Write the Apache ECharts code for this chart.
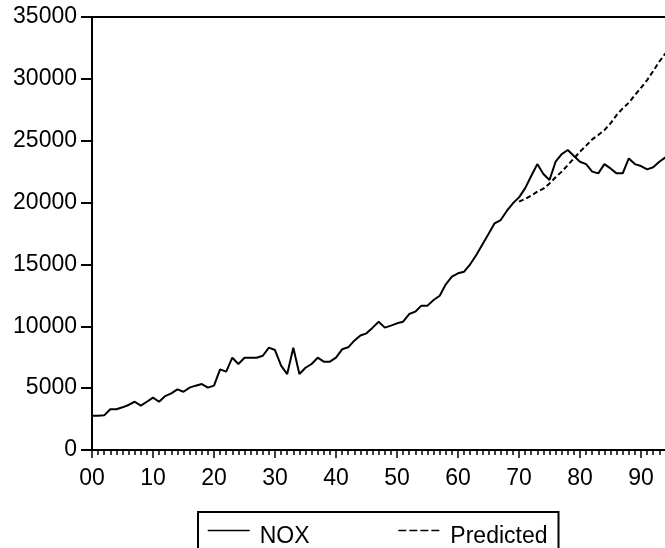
<!DOCTYPE html>
<html>
<head>
<meta charset="utf-8">
<script src="https://cdn.jsdelivr.net/npm/echarts@6/dist/echarts.min.js"></script>
<style>
html,body{margin:0;padding:0;background:#fff;}
#chart{width:665px;height:548px;}
</style>
</head>
<body>
<div id="chart"></div>
<script>
const years = [];
for (let y = 0; y <= 94; y++) years.push(y);
const nox = [2775,2775,2800,3290,3290,3450,3640,3900,3580,3900,
  4230,3900,4360,4580,4900,4710,5040,5200,5330,5040,
  5200,6520,6330,7460,6950,7460,7460,7460,7620,8270,
  8080,6820,6140,8270,6140,6650,6950,7460,7140,7140,
  7460,8140,8300,8840,9260,9430,9890,10370,9890,10050,
  10240,10370,10990,11180,11670,11670,12120,12470,13390,14010,
  14280,14410,15010,15760,16620,17460,18320,18590,19320,19940,
  20420,21150,22150,23110,22310,21820,23300,23920,24250,23760,
  23300,23110,22500,22360,23110,22760,22360,22360,23570,23110,
  22950,22680,22850,23300,23650];
const predYears = [];
for (let y = 70; y <= 94; y++) predYears.push(y);
const predicted = [20070,20290,20560,20880,21120,21550,22040,22500,23030,23570,
  24110,24600,25110,25460,25860,26400,27070,27610,28070,28690,
  29280,29900,30630,31390,32060];
const xTickLabels = ['00','10','20','30','40','50','60','70','80','90'];

const chart = echarts.init(document.getElementById('chart'), null, {renderer:'canvas'});
const font = 'Liberation Sans, Arial, sans-serif';
chart.setOption({
  animation: false,
  backgroundColor: '#fff',
  grid: {left: 92, top: 17, width: 610, bottom: 98, show: true, borderColor: '#000', borderWidth: 2,
    backgroundColor: 'transparent', outerBoundsMode: 'none', containLabel: false},
  xAxis: {
    type: 'value', min: 0, max: 100, interval: 10,
    axisLine: {show: true, lineStyle: {color: '#000', width: 2}},
    axisTick: {show: true, length: 8, lineStyle: {color: '#000', width: 1.5}},
    minorTick: {show: true, splitNumber: 10, length: 5, lineStyle: {color: '#000', width: 1.5}},
    splitLine: {show: false},
    axisLabel: {color: '#000', fontSize: 23, fontFamily: font, margin: 17,
      formatter: v => { const i = Math.round(v / 10); return i < xTickLabels.length ? xTickLabels[i] : ''; }}
  },
  yAxis: {
    type: 'value', min: 0, max: 35000, interval: 5000,
    axisLine: {show: true, lineStyle: {color: '#000', width: 2}},
    axisTick: {show: true, length: 11, lineStyle: {color: '#000', width: 2}},
    splitLine: {show: false},
    axisLabel: {color: '#000', fontSize: 23, fontFamily: font, margin: 15, formatter: v => String(v)}
  },
  legend: {
    left: 198, top: 512,
    padding: [1, 11, 6, 9],
    borderColor: '#000', borderWidth: 2,
    itemWidth: 42, itemHeight: 14, itemGap: 88,
    itemStyle: {color: 'rgba(0,0,0,0)', borderWidth: 0, opacity: 0},
    formatter: '{a|{name}}',
    textStyle: {color: '#000', fontSize: 23, fontFamily: font, padding: [0, 0, 0, 5],
      rich: {a: {color: '#000', fontSize: 23, fontFamily: font, lineHeight: 12, padding: [12, 0, 0, 0]}}},
    data: [
      {name: 'NOX', lineStyle: {type: 'solid', width: 1.5}},
      {name: 'Predicted', lineStyle: {type: [8, 3], width: 1.5}}
    ]
  },
  series: [
    {name: 'NOX', type: 'line', symbol: 'none', data: years.map((y, i) => [y, nox[i]]),
      lineStyle: {color: '#000', width: 2}, itemStyle: {color: '#000'}},
    {name: 'Predicted', type: 'line', symbol: 'none', data: predYears.map((y, i) => [y, predicted[i]]),
      lineStyle: {color: '#000', width: 2, type: [5, 3]}, itemStyle: {color: '#000'}}
  ]
});
</script>
</body>
</html>
